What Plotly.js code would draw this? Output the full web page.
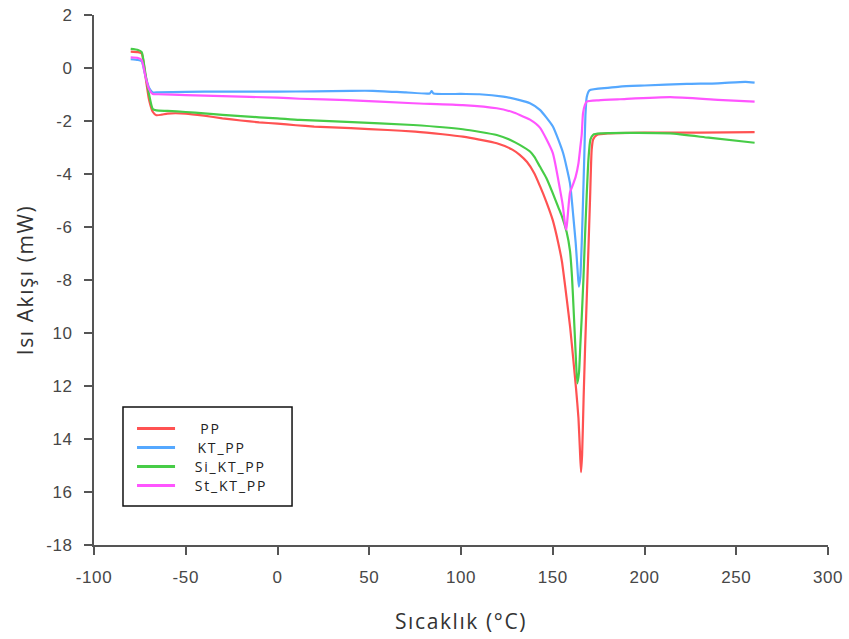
<!DOCTYPE html>
<html>
<head>
<meta charset="utf-8">
<script src="https://cdn.plot.ly/plotly-3.0.1.min.js"></script>
<style>
  html, body { margin: 0; padding: 0; background: #ffffff; }
  #chart { width: 849px; height: 639px; }
  /* slightly wider lettering for titles, tick labels and the key */
  #chart .xtitle, #chart .ytitle { letter-spacing: 1.6px; }
  #chart .xtick text, #chart .ytick text { letter-spacing: 0.6px; }
  #chart .annotation-text { letter-spacing: 1.8px; }
</style>
</head>
<body>
<div id="chart"></div>
<script>
// DSC heat-flow curves (mW) versus temperature (°C)
const ppT = [-80, -76, -74, -72, -70, -68, -66, -63, -60, -50, -40, -30, -20, -10, 0, 10, 20, 40, 60, 75, 90, 101, 110, 119.5, 128, 132, 136, 140, 143, 146.5, 150, 153, 155, 157.6, 159.5, 161.2, 162.7, 164, 164.8, 165.4, 166, 166.8, 167.6, 168.5, 169.4, 170.3, 171.2, 172, 174, 180, 200, 230, 260];
const ppY = [0.62, 0.6, 0.55, -0.3, -1.2, -1.65, -1.78, -1.76, -1.72, -1.72, -1.8, -1.9, -1.98, -2.05, -2.1, -2.16, -2.21, -2.27, -2.34, -2.4, -2.5, -2.59, -2.7, -2.84, -3.08, -3.28, -3.55, -3.98, -4.45, -5.05, -5.74, -6.6, -7.3, -8.7, -9.8, -11.0, -12.1, -13.2, -14.4, -15.25, -14.6, -12.5, -10.6, -8.75, -6.9, -5.0, -3.1, -2.7, -2.53, -2.47, -2.44, -2.44, -2.42];

const ktT = [-80, -76, -74, -72, -70, -68, -65, -50, -30, 0, 20, 40, 52, 70, 83, 84, 85, 100, 110, 123, 132, 137.6, 143, 150, 155.6, 159.4, 161.2, 162.5, 163.5, 164.2, 165, 165.8, 166.5, 167.2, 167.8, 168.5, 170, 180, 186.6, 200, 223, 240, 255, 260];
const ktY = [0.33, 0.3, 0.25, -0.3, -0.75, -0.92, -0.92, -0.9, -0.89, -0.89, -0.88, -0.86, -0.86, -0.92, -0.96, -0.87, -0.96, -0.98, -0.99, -1.08, -1.21, -1.33, -1.58, -2.2, -3.2, -4.35, -5.6, -6.6, -7.6, -8.25, -7.9, -6.6, -5.0, -3.3, -1.8, -1.1, -0.84, -0.75, -0.7, -0.66, -0.6, -0.58, -0.52, -0.55];

const siT = [-80, -76, -74, -72, -70, -68, -66, -60, -50, -40, -30, -10, 0, 12, 37.7, 73.9, 101, 119.5, 128, 132, 137.6, 140, 143, 146.5, 150, 153, 155, 157.6, 159.4, 160.5, 161.5, 162.5, 163.4, 164.3, 165, 165.8, 166.7, 167.5, 168.5, 169.5, 170.5, 172, 176, 190, 214, 235, 260];
const siY = [0.72, 0.68, 0.6, -0.2, -1.0, -1.55, -1.6, -1.62, -1.66, -1.71, -1.77, -1.86, -1.9, -1.96, -2.03, -2.15, -2.31, -2.53, -2.75, -2.9, -3.15, -3.35, -3.72, -4.15, -4.72, -5.25, -5.6, -6.2, -6.9, -7.9, -9.3, -10.8, -11.9, -11.5, -10.5, -9.4, -8.0, -6.5, -4.8, -3.4, -2.7, -2.52, -2.47, -2.45, -2.47, -2.63, -2.82];

const stT = [-80, -76, -74, -72, -70, -68, -65, -50, -30, 0, 12, 37.7, 73.9, 101, 119.5, 128, 132, 137.6, 143, 150, 154, 155.5, 156.7, 157.4, 158, 159.4, 161, 162.5, 164, 165, 165.8, 166.5, 167.5, 168.5, 175, 186.6, 214, 240, 260];
const stY = [0.4, 0.38, 0.3, -0.3, -0.8, -0.98, -0.99, -1.02, -1.06, -1.12, -1.16, -1.21, -1.33, -1.4, -1.52, -1.66, -1.77, -1.95, -2.25, -3.2, -4.6, -5.2, -5.9, -6.1, -5.7, -4.7, -4.4, -4.1, -3.6, -3.0, -2.5, -1.7, -1.4, -1.27, -1.22, -1.18, -1.1, -1.2, -1.27];

const seriesNames = ['PP', 'KT_PP', 'Si_KT_PP', 'St_KT_PP'];
const seriesColors = ['#ff5252', '#55a8ff', '#47cc47', '#ff55ff'];

const yTickVals = [2, 0, -2, -4, -6, -8, -10, -12, -14, -16, -18];
const yTickText = ['2', '0', '-2', '-4', '-6', '-8', '10', '12', '14', '16', '-18'];
const xTickVals = [-100, -50, 0, 50, 100, 150, 200, 250, 300];
const xTickText = ['-100', '-50', '0', '50', '100', '150', '200', '250', '300'];

const xs = [ppT, ktT, siT, stT];
const ys = [ppY, ktY, siY, stY];

const traces = seriesNames.map((name, i) => ({
  type: 'scatter',
  mode: 'lines',
  name: name,
  x: xs[i],
  y: ys[i],
  line: { color: seriesColors[i], width: 2.2, shape: 'spline', smoothing: 0.5 }
}));

// Boxed key in the lower-left corner of the plot (paper coordinates)
const key = { x0: 0.0395, x1: 0.2698, y0: 0.0736, y1: 0.2604,
              lineX0: 0.0586, lineX1: 0.1104, textX: 0.1455,
              rows: [0.2198, 0.1840, 0.1481, 0.1123] };

const shapes = [{
  type: 'rect', xref: 'paper', yref: 'paper', layer: 'above',
  x0: key.x0, x1: key.x1, y0: key.y0, y1: key.y1,
  line: { color: '#111111', width: 1.5 }, fillcolor: '#ffffff'
}];
const annotations = [];
seriesNames.forEach((name, i) => {
  shapes.push({
    type: 'line', xref: 'paper', yref: 'paper', layer: 'above',
    x0: key.lineX0, x1: key.lineX1, y0: key.rows[i], y1: key.rows[i],
    line: { color: seriesColors[i], width: 3 }
  });
  annotations.push({
    xref: 'paper', yref: 'paper', x: key.textX, y: key.rows[i],
    xanchor: 'left', yanchor: 'middle', showarrow: false, text: name,
    borderpad: 0,
    font: { family: 'Open Sans, sans-serif', size: 14, color: '#222222' }
  });
});

const axisCommon = {
  showgrid: false,
  zeroline: false,
  showline: true,
  linecolor: '#555555',
  linewidth: 2,
  ticks: 'outside',
  ticklen: 8,
  tickwidth: 2,
  tickcolor: '#555555',
  ticklabelstandoff: 8,
  tickfont: { family: 'Liberation Sans, Arial, sans-serif', size: 17, color: '#474747' }
};

const titleFont = { family: 'Open Sans, sans-serif', size: 21, color: '#333333' };

const layout = {
  width: 849,
  height: 639,
  paper_bgcolor: '#ffffff',
  plot_bgcolor: '#ffffff',
  margin: { l: 94, r: 21, t: 15, b: 94 },
  showlegend: false,
  shapes: shapes,
  annotations: annotations,
  xaxis: Object.assign({}, axisCommon, {
    range: [-100, 300],
    tickvals: xTickVals,
    ticktext: xTickText,
    title: { text: 'Sıcaklık (°C)', font: titleFont, standoff: 28 }
  }),
  yaxis: Object.assign({}, axisCommon, {
    range: [-18, 2],
    tickvals: yTickVals,
    ticktext: yTickText,
    title: { text: 'Isı Akışı (mW)', font: titleFont, standoff: 9 }
  })
};

Plotly.newPlot('chart', traces, layout, { displayModeBar: false, staticPlot: true });
</script>
</body>
</html>
